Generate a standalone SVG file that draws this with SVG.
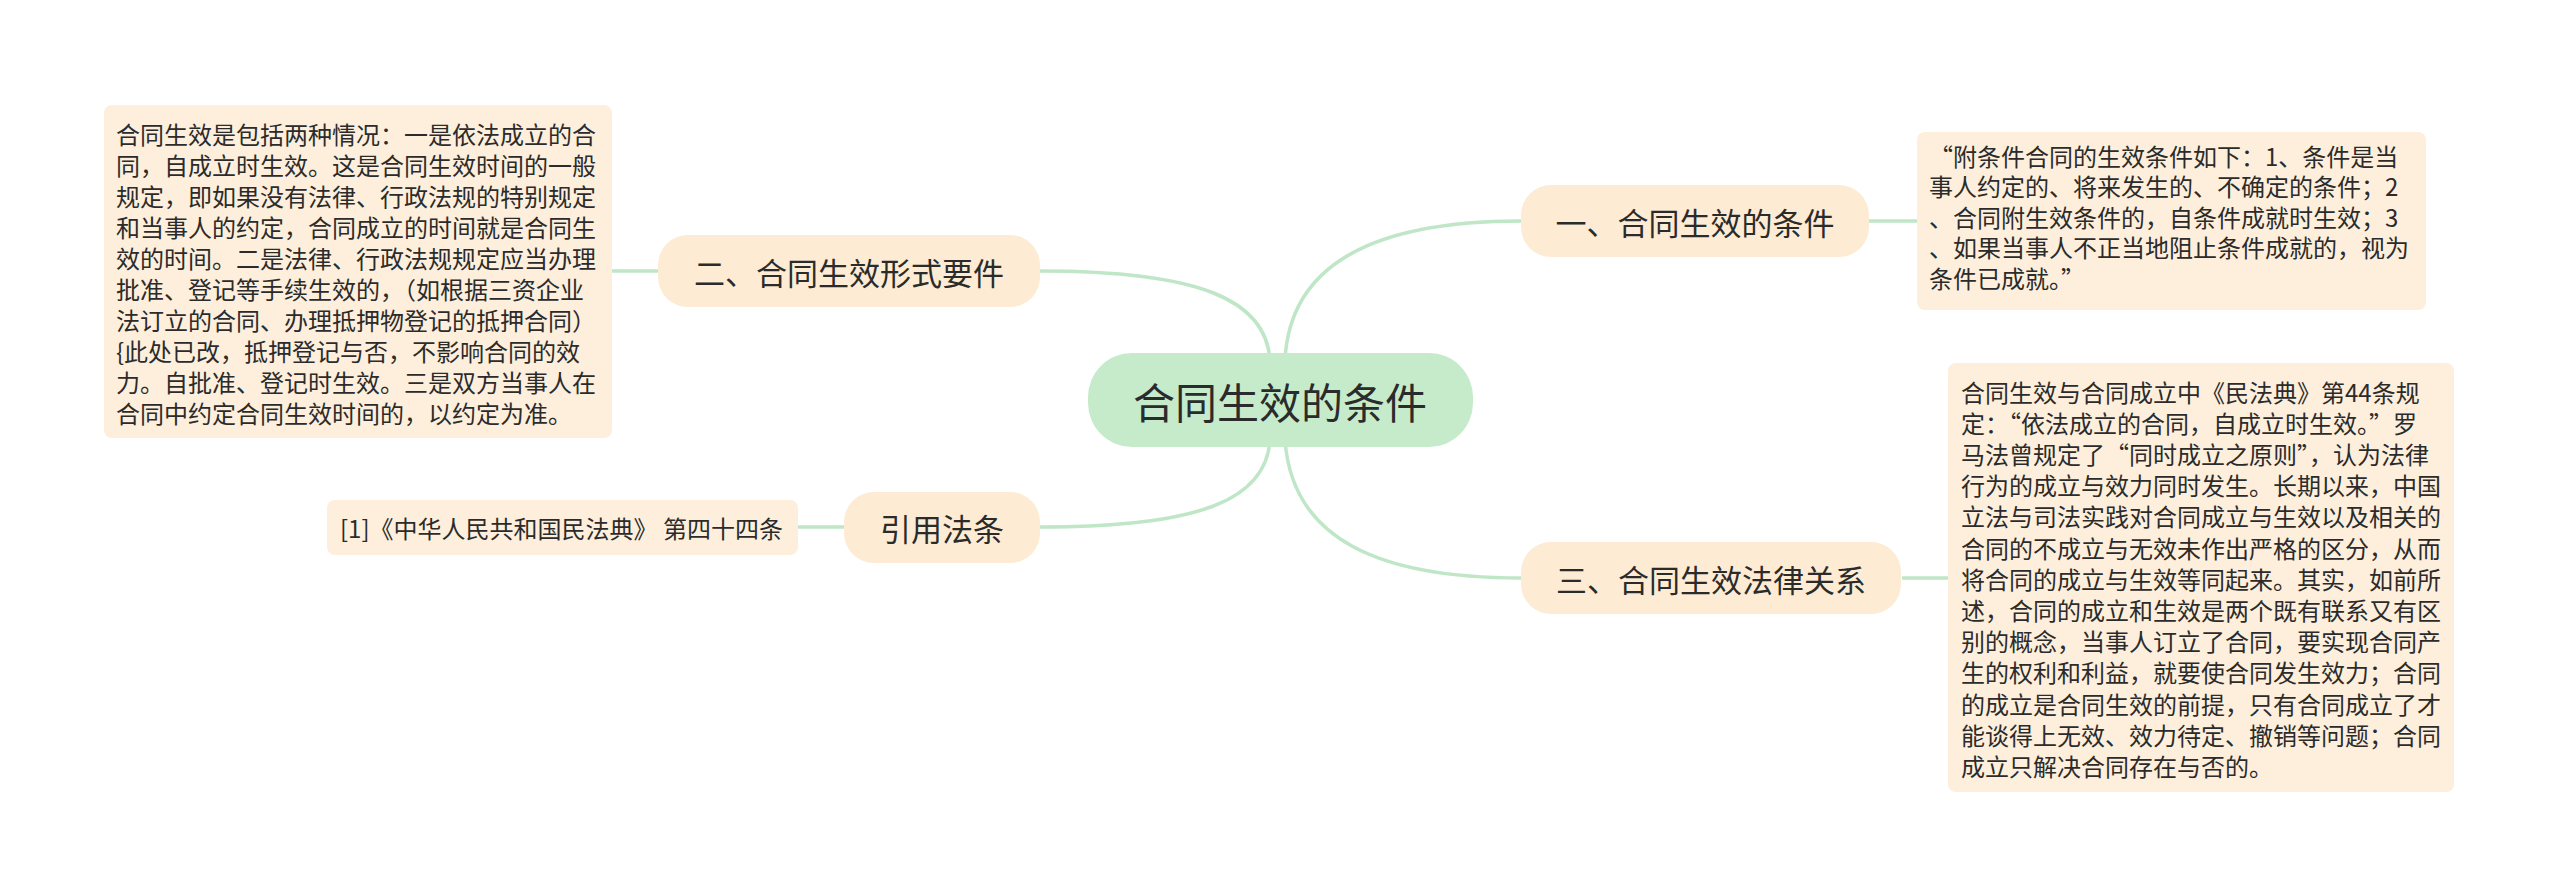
<svg xmlns="http://www.w3.org/2000/svg" width="2560" height="896" viewBox="0 0 2560 896">
<style>
text{font-family:"Noto Sans CJK SC","Noto Sans",sans-serif;fill:#2b2b2b;dominant-baseline:central}
.c{fill:none;stroke:#bfe6c6;stroke-width:3.5}
.root{fill:#c5ebcb}
.br{fill:#fdebd3}
.lf{fill:#fdefdc}
.t1{font-size:42px;text-anchor:middle}
.t2{font-size:31px;text-anchor:middle}
.t3{font-size:24px}
</style>
<rect width="2560" height="896" fill="#ffffff"/>
<g id="connectors">
<path class="c" d="M1040 271 C1200 271 1266 300 1270 360"/>
<path class="c" d="M1521 221 C1380 221 1290 260 1285 360"/>
<path class="c" d="M1040 527 C1200 527 1266 500 1270 440"/>
<path class="c" d="M1521 578 C1380 578 1292 540 1285 440"/>
<path class="c" d="M612 271 L658 271"/>
<path class="c" d="M1869 221 L1917 221"/>
<path class="c" d="M1902 578 L1948 578"/>
<path class="c" d="M798 527 L844 527"/>
</g>
<g id="root">
<rect class="root" x="1088" y="353" width="385" height="94" rx="44"/>
<text class="t1" x="1280" y="400">合同生效的条件</text>
</g>
<g id="n1">
<rect class="br" x="1521" y="185" width="348" height="72" rx="30"/>
<text class="t2" x="1695" y="221">一、合同生效的条件</text>
</g>
<g id="n2">
<rect class="br" x="658" y="235" width="382" height="72" rx="30"/>
<text class="t2" x="849" y="271">二、合同生效形式要件</text>
</g>
<g id="n3">
<rect class="br" x="844" y="492" width="196" height="71" rx="30"/>
<text class="t2" x="942" y="527">引用法条</text>
</g>
<g id="n4">
<rect class="br" x="1521" y="542" width="380" height="72" rx="30"/>
<text class="t2" x="1711" y="578">三、合同生效法律关系</text>
</g>
<g id="leaf2">
<rect class="lf" x="104" y="105" width="508" height="333" rx="8"/>
<text class="t3" x="116" y="133">合同生效是包括两种情况：一是依法成立的合</text>
<text class="t3" x="116" y="164">同，自成立时生效。这是合同生效时间的一般</text>
<text class="t3" x="116" y="195">规定，即如果没有法律、行政法规的特别规定</text>
<text class="t3" x="116" y="226">和当事人的约定，合同成立的时间就是合同生</text>
<text class="t3" x="116" y="257">效的时间。二是法律、行政法规规定应当办理</text>
<text class="t3" x="116" y="288">批准、登记等手续生效的，（如根据三资企业</text>
<text class="t3" x="116" y="319">法订立的合同、办理抵押物登记的抵押合同）</text>
<text class="t3" x="116" y="350">{此处已改，抵押登记与否，不影响合同的效</text>
<text class="t3" x="116" y="381">力。自批准、登记时生效。三是双方当事人在</text>
<text class="t3" x="116" y="412">合同中约定合同生效时间的，以约定为准。</text>
</g>
<g id="leaf1">
<rect class="lf" x="1917" y="132" width="509" height="178" rx="8"/>
<text class="t3" x="1929" y="155">“附条件合同的生效条件如下：1、条件是当</text>
<text class="t3" x="1929" y="185.5">事人约定的、将来发生的、不确定的条件；2</text>
<text class="t3" x="1929" y="216">、合同附生效条件的，自条件成就时生效；3</text>
<text class="t3" x="1929" y="246.5">、如果当事人不正当地阻止条件成就的，视为</text>
<text class="t3" x="1929" y="277">条件已成就。”</text>
</g>
<g id="leaf3">
<rect class="lf" x="327" y="500" width="471" height="55" rx="8"/>
<text class="t3" x="340" y="527">[1]《中华人民共和国民法典》 第四十四条</text>
</g>
<g id="leaf4">
<rect class="lf" x="1948" y="363" width="506" height="429" rx="8"/>
<text class="t3" x="1961" y="391">合同生效与合同成立中《民法典》第44条规</text>
<text class="t3" x="1961" y="422.2">定：“依法成立的合同，自成立时生效。”罗</text>
<text class="t3" x="1961" y="453.4">马法曾规定了“同时成立之原则”，认为法律</text>
<text class="t3" x="1961" y="484.6">行为的成立与效力同时发生。长期以来，中国</text>
<text class="t3" x="1961" y="515.8">立法与司法实践对合同成立与生效以及相关的</text>
<text class="t3" x="1961" y="547">合同的不成立与无效未作出严格的区分，从而</text>
<text class="t3" x="1961" y="578.2">将合同的成立与生效等同起来。其实，如前所</text>
<text class="t3" x="1961" y="609.4">述，合同的成立和生效是两个既有联系又有区</text>
<text class="t3" x="1961" y="640.6">别的概念，当事人订立了合同，要实现合同产</text>
<text class="t3" x="1961" y="671.8">生的权利和利益，就要使合同发生效力；合同</text>
<text class="t3" x="1961" y="703">的成立是合同生效的前提，只有合同成立了才</text>
<text class="t3" x="1961" y="734.2">能谈得上无效、效力待定、撤销等问题；合同</text>
<text class="t3" x="1961" y="765.4">成立只解决合同存在与否的。</text>
</g>
</svg>
